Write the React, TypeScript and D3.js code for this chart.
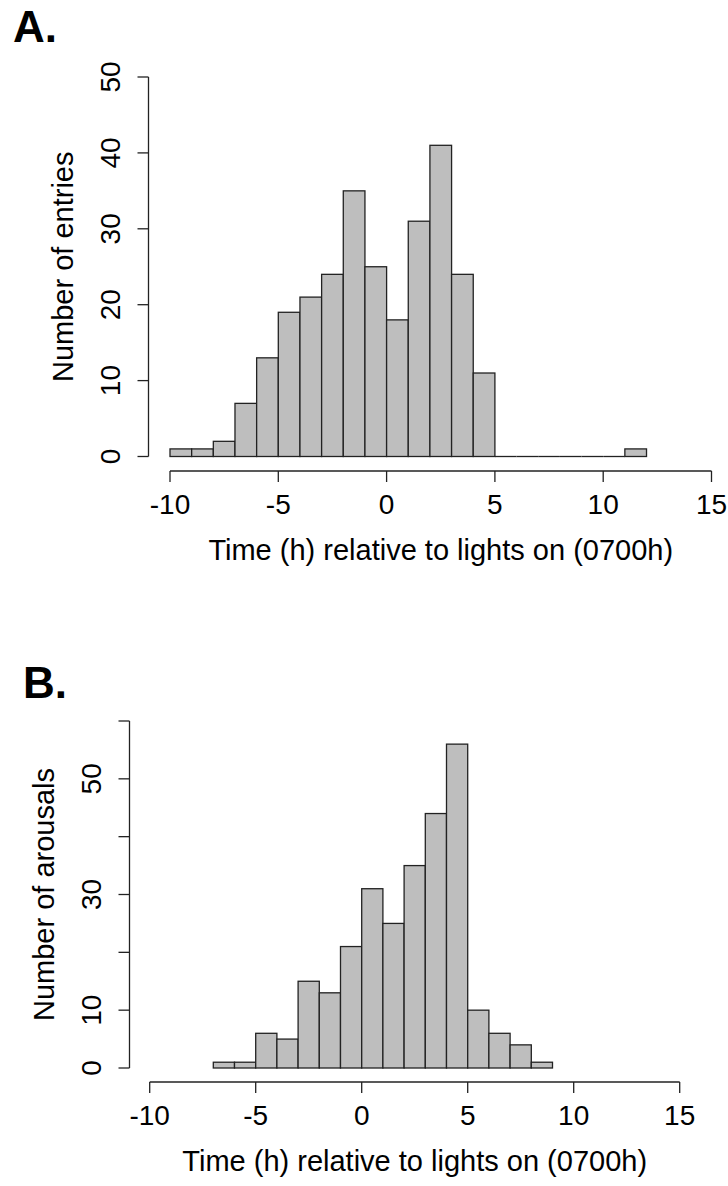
import React from "react";
import * as d3 from "d3";

// Panel A: counts per 1-hour bin starting at -10 (bins -10..12)
const binStartA = -10;
const countsA = [1, 1, 2, 7, 13, 19, 21, 24, 35, 25, 18, 31, 41, 24, 11, 0, 0, 0, 0, 0, 0, 1];
// Panel B: counts per 1-hour bin starting at -7 (bins -7..9)
const binStartB = -7;
const countsB = [1, 1, 6, 5, 15, 13, 21, 31, 25, 35, 44, 56, 10, 6, 4, 1];

const xTicks = [-10, -5, 0, 5, 10, 15];
const yTicksA = [0, 10, 20, 30, 40, 50];
const yLabelsA = [0, 10, 20, 30, 40, 50];
const yTicksB = [0, 10, 20, 30, 40, 50, 60];
const yLabelsB = [0, 10, 30, 50];

const xTitle = "Time (h) relative to lights on (0700h)";
const yTitleA = "Number of entries";
const yTitleB = "Number of arousals";

const FONT = "'Liberation Sans', Arial, sans-serif";
const STROKE = "#222";

type PanelProps = {
  letter: string;
  letterX: number;
  letterY: number;
  binStart: number;
  counts: number[];
  xRange: [number, number];
  yDomainMax: number;
  yRange: [number, number];
  xAxisY: number;
  yAxisX: number;
  yTicks: number[];
  yLabels: number[];
  yTitle: string;
};

function Panel(p: PanelProps) {
  const x = d3.scaleLinear().domain([-10, 15]).range(p.xRange);
  const y = d3.scaleLinear().domain([0, p.yDomainMax]).range(p.yRange);
  const bins = p.counts.map((c, i) => ({ x0: p.binStart + i, x1: p.binStart + i + 1, c }));
  const tickLen = 11;
  const yMid = (p.yRange[0] + p.yRange[1]) / 2;
  const xMid = (p.xRange[0] + p.xRange[1]) / 2;
  return (
    <g>
      <text x={p.letterX} y={p.letterY} fontFamily={FONT} fontWeight="bold" fontSize={44} fill="#000">
        {p.letter}
      </text>
      {bins.map((b, i) =>
        b.c > 0 ? (
          <rect
            key={i}
            x={x(b.x0)}
            y={y(b.c)}
            width={x(b.x1) - x(b.x0)}
            height={y(0) - y(b.c)}
            fill="#bebebe"
            stroke={STROKE}
            strokeWidth={1.3}
          />
        ) : (
          <line
            key={i}
            x1={x(b.x0)}
            x2={x(b.x1)}
            y1={y(0)}
            y2={y(0)}
            stroke={STROKE}
            strokeWidth={1.3}
          />
        )
      )}
      {/* x axis */}
      <line x1={x(-10)} x2={x(15)} y1={p.xAxisY} y2={p.xAxisY} stroke={STROKE} strokeWidth={1.3} />
      {xTicks.map((t) => (
        <g key={t}>
          <line x1={x(t)} x2={x(t)} y1={p.xAxisY} y2={p.xAxisY + tickLen} stroke={STROKE} strokeWidth={1.3} />
          <text x={x(t)} y={p.xAxisY + 42.5} textAnchor="middle" fontFamily={FONT} fontSize={28} fill="#000">
            {t}
          </text>
        </g>
      ))}
      <text x={xMid} y={p.xAxisY + 89} textAnchor="middle" fontFamily={FONT} fontSize={29} fill="#000">
        {xTitle}
      </text>
      {/* y axis */}
      <line x1={p.yAxisX} x2={p.yAxisX} y1={y(0)} y2={y(p.yDomainMax)} stroke={STROKE} strokeWidth={1.3} />
      {p.yTicks.map((t) => (
        <line key={t} x1={p.yAxisX - tickLen} x2={p.yAxisX} y1={y(t)} y2={y(t)} stroke={STROKE} strokeWidth={1.3} />
      ))}
      {p.yLabels.map((t) => (
        <text
          key={t}
          transform={`translate(${p.yAxisX - 28.5},${y(t)}) rotate(-90)`}
          textAnchor="middle"
          fontFamily={FONT}
          fontSize={28}
          fill="#000"
        >
          {t}
        </text>
      ))}
      <text
        transform={`translate(${p.yAxisX - 76},${yMid}) rotate(-90)`}
        textAnchor="middle"
        fontFamily={FONT}
        fontSize={29}
        fill="#000"
      >
        {p.yTitle}
      </text>
    </g>
  );
}

export default function App() {
  return (
    <svg
      width={728}
      height={1186}
      style={{ position: "absolute", left: 0, top: 0, background: "#fff" }}
    >
      <rect x={0} y={0} width={728} height={1186} fill="#fff" />
      <Panel
        letter="A."
        letterX={13}
        letterY={42}
        binStart={binStartA}
        counts={countsA}
        xRange={[170, 711.5]}
        yDomainMax={50}
        yRange={[456.5, 77]}
        xAxisY={471}
        yAxisX={148.5}
        yTicks={yTicksA}
        yLabels={yLabelsA}
        yTitle={yTitleA}
      />
      <Panel
        letter="B."
        letterX={23}
        letterY={698}
        binStart={binStartB}
        counts={countsB}
        xRange={[149.7, 679.7]}
        yDomainMax={60}
        yRange={[1068, 721]}
        xAxisY={1082}
        yAxisX={129.5}
        yTicks={yTicksB}
        yLabels={yLabelsB}
        yTitle={yTitleB}
      />
    </svg>
  );
}
